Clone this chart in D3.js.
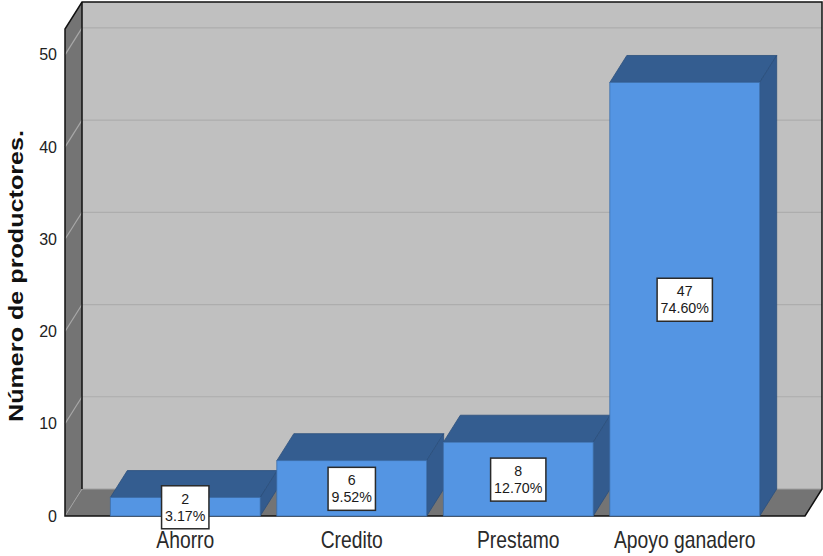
<!DOCTYPE html>
<html>
<head>
<meta charset="utf-8">
<script src="https://cdn.jsdelivr.net/npm/d3@7/dist/d3.min.js"></script>
<style>
  html, body { margin: 0; padding: 0; background: #ffffff; }
  svg { display: block; }
</style>
</head>
<body>
<svg id="chart" width="823" height="556"></svg>
<script>
// ---- data ----
const categories = ["Ahorro", "Credito", "Prestamo", "Apoyo ganadero"];
const counts = [2, 6, 8, 47];
const percents = ["3.17%", "9.52%", "12.70%", "74.60%"];
const yTicks = [0, 10, 20, 30, 40, 50];
const yTitle = "Número de productores.";

// ---- layout ----
const plotLeft = 65, plotRight = 805;
const depthX = 17, depthY = -27;
const sans = "'Liberation Sans', Arial, sans-serif";
const squeeze = 0.84;      // condensed look of the original category font
const boxSqueeze = 0.95;

const svg = d3.select("#chart");

const y = d3.scaleLinear().domain([0, 52.8]).range([516, 29]);
const x = d3.scaleBand().domain(categories).range([102, 768])
  .paddingInner(0.1).paddingOuter(0.05);

const y0 = y(0), yTop = y(52.8);

// back wall
svg.append("rect")
  .attr("x", plotLeft + depthX).attr("y", yTop + depthY)
  .attr("width", plotRight - plotLeft).attr("height", y0 - yTop)
  .attr("fill", "#c0c0c0");

// back wall gridlines
svg.append("g").selectAll("line").data(yTicks.filter(d => d > 0)).join("line")
  .attr("x1", plotLeft + depthX).attr("x2", plotRight + depthX)
  .attr("y1", d => y(d) + depthY).attr("y2", d => y(d) + depthY)
  .attr("stroke", "#adadad").attr("stroke-width", 1.2);

// left wall
svg.append("path")
  .attr("d", `M${plotLeft},${yTop} L${plotLeft + depthX},${yTop + depthY} L${plotLeft + depthX},${y0 + depthY} L${plotLeft},${y0} Z`)
  .attr("fill", "#747474");

// left wall gridlines
svg.append("g").selectAll("line").data(yTicks.filter(d => d > 0)).join("line")
  .attr("x1", plotLeft).attr("x2", plotLeft + depthX)
  .attr("y1", d => y(d)).attr("y2", d => y(d) + depthY)
  .attr("stroke", "#a8a8a8").attr("stroke-width", 1.2);

// floor
svg.append("path")
  .attr("d", `M${plotLeft},${y0} L${plotLeft + depthX},${y0 + depthY} L${plotRight + depthX},${y0 + depthY} L${plotRight},${y0} Z`)
  .attr("fill", "#747474");
svg.append("line")
  .attr("x1", plotLeft + depthX).attr("x2", plotRight + depthX)
  .attr("y1", y0 + depthY).attr("y2", y0 + depthY)
  .attr("stroke", "#a0a0a0").attr("stroke-width", 1);
svg.append("line")
  .attr("x1", plotLeft).attr("y1", y0)
  .attr("x2", plotLeft + depthX).attr("y2", y0 + depthY)
  .attr("stroke", "#a0a0a0").attr("stroke-width", 1);

// frame edges
const edges = svg.append("g").attr("stroke", "#111").attr("stroke-width", 1.5).attr("fill", "none");
edges.append("path").attr("d",
  `M${plotLeft},${y0} L${plotLeft},${yTop} L${plotLeft + depthX},${yTop + depthY} L${plotRight + depthX},${yTop + depthY} L${plotRight + depthX},${y0 + depthY} L${plotRight},${y0} Z`);
edges.append("line").attr("x1", plotLeft + depthX).attr("x2", plotLeft + depthX)
  .attr("y1", yTop + depthY).attr("y2", y0 + depthY);

// bars
const data = categories.map((c, i) => ({ c, v: counts[i], p: percents[i] }));
const bw = x.bandwidth();
const bars = svg.append("g").selectAll("g").data(data).join("g");
bars.append("path") // top
  .attr("d", d => {
    const x0 = x(d.c), x1 = x0 + bw, yt = y(d.v);
    return `M${x0},${yt} L${x0 + depthX},${yt + depthY} L${x1 + depthX},${yt + depthY} L${x1},${yt} Z`;
  })
  .attr("fill", "#345d90").attr("stroke", "#2b4f7c").attr("stroke-width", 0.8);
bars.append("path") // side
  .attr("d", d => {
    const x1 = x(d.c) + bw, yt = y(d.v);
    return `M${x1},${yt} L${x1 + depthX},${yt + depthY} L${x1 + depthX},${y0 + depthY} L${x1},${y0} Z`;
  })
  .attr("fill", "#335b8e").attr("stroke", "#2b4f7c").attr("stroke-width", 0.8);
bars.append("rect") // front
  .attr("x", d => x(d.c)).attr("y", d => y(d.v))
  .attr("width", bw).attr("height", d => y0 - y(d.v))
  .attr("fill", "#5495e3").attr("stroke", "#3d6fab").attr("stroke-width", 0.8);

// value boxes
const lbl = bars.append("g")
  .attr("transform", d => `translate(${x(d.c) + bw / 2},${(y(d.v) + y0) / 2})`);
const box = lbl.append("rect").attr("fill", "#ffffff").attr("stroke", "#2a2a2a").attr("stroke-width", 1.5);
const t1 = lbl.append("text").attr("text-anchor", "middle")
  .attr("transform", `translate(0,-3) scale(${boxSqueeze},1)`)
  .style("font-family", sans).style("font-size", "15px").attr("fill", "#1a1a1a")
  .text(d => d.v);
const t2 = lbl.append("text").attr("text-anchor", "middle")
  .attr("transform", `translate(0,14) scale(${boxSqueeze},1)`)
  .style("font-family", sans).style("font-size", "15px").attr("fill", "#1a1a1a")
  .text(d => d.p);
box.each(function (d, i) {
  const w = Math.max(t1.nodes()[i].getComputedTextLength(), t2.nodes()[i].getComputedTextLength()) * boxSqueeze + 7;
  d3.select(this).attr("x", -w / 2).attr("y", -21).attr("width", w).attr("height", 43);
});

// y axis tick labels
const ax = svg.append("g").attr("transform", `translate(${plotLeft},0)`)
  .call(d3.axisLeft(y).tickValues(yTicks).tickSize(0).tickPadding(8).tickFormat(d3.format("d")));
ax.select(".domain").remove();
ax.selectAll("text").style("font-family", sans).style("font-size", "16px").attr("fill", "#222");

// category labels
svg.append("g").selectAll("text").data(categories).join("text")
  .attr("transform", d => `translate(${x(d) + bw / 2},548) scale(${squeeze},1)`)
  .attr("text-anchor", "middle")
  .style("font-family", sans).style("font-size", "23px").attr("fill", "#2a2a2a")
  .text(d => d);

// y title
svg.append("text")
  .attr("transform", "rotate(-90)")
  .attr("x", -276).attr("y", 23)
  .attr("text-anchor", "middle")
  .attr("textLength", 292).attr("lengthAdjust", "spacingAndGlyphs")
  .style("font-family", sans)
  .style("font-size", "20px").style("font-weight", "bold").attr("fill", "#111")
  .text(yTitle);
</script>
</body>
</html>
